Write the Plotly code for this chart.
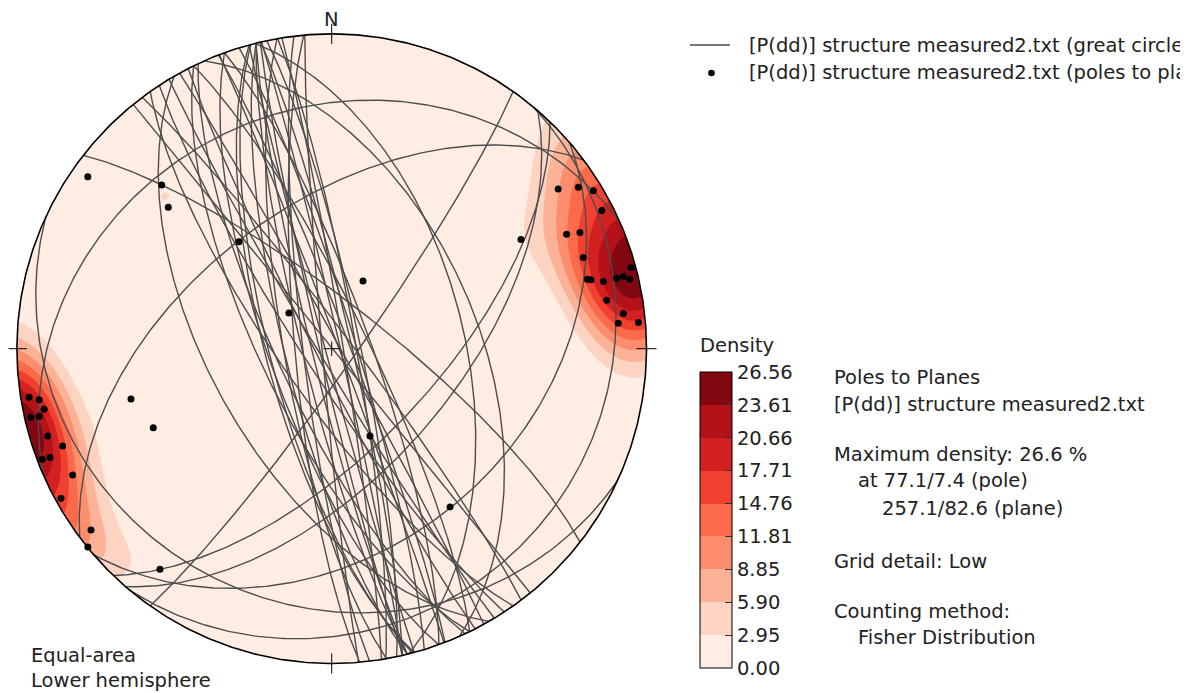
import numpy as np
import plotly.graph_objects as go

# ---------------- data (planes as dip direction / dip, degrees) ----------------
dip_direction = [234.8, 236.8, 238.9, 242.9, 244.0, 244.9, 240.0, 250.1, 254.8, 254.8,
                 255.1, 256.1, 256.1, 256.1, 256.9, 260.0, 263.1, 264.9, 265.1,
                 80.9, 80.1, 78.1, 77.1, 77.0, 72.9, 70.1, 69.1, 68.9, 64.0, 61.1, 53.0, 50.9,
                 125.2, 133.9, 130.9, 139.1, 204.8, 129.9, 75.9, 66.1, 336.3, 323.2, 37.9]
dip = [77.0, 82.9, 86.7, 85.9, 71.9, 76.0, 58.8, 73.9, 88.3, 73.0,
       74.1, 77.9, 82.5, 84.9, 86.9, 77.7, 82.6, 80.5, 87.5,
       87.0, 83.7, 82.6, 87.8, 84.8, 83.7, 80.0, 88.2, 85.4, 80.7, 88.0, 85.2, 89.8,
       84.2, 64.0, 58.1, 37.1, 19.3, 14.4, 55.4, 52.0, 24.7, 52.7, 77.8]

density_labels = ["0.00", "2.95", "5.90", "8.85", "11.81", "14.76", "17.71", "20.66", "23.61", "26.56"]
max_density = 26.56
kappa = 50.0

info_lines = ["Poles to Planes", "[P(dd)] structure measured2.txt", "Maximum density: 26.6 %",
              "at 77.1/7.4 (pole)", "257.1/82.6 (plane)", "Grid detail: Low",
              "Counting method:", "Fisher Distribution"]
legend_labels = ["[P(dd)] structure measured2.txt (great circles)",
                 "[P(dd)] structure measured2.txt (poles to planes)"]

band_colors = ["rgb(255,236,227)", "rgb(253,212,194)", "rgb(252,178,151)", "rgb(252,142,110)",
               "rgb(251,106,74)", "rgb(240,64,47)", "rgb(211,32,32)", "rgb(178,18,24)",
               "rgb(131,7,17)"]

# ---------------- geometry helpers ----------------
OFF = 8                      # page body margin of the html page
W, H = 1188 - OFF, 693 - OFF
cx, cy, R = 331.7, 348.7, 314.8   # pixel centre / radius of the net (window coords)
xlo = -(cx - OFF - 0.5) / R       # left edge of the drawable area
rng = 1.05
FONT = "DejaVu Sans"
FS = 19.5
TXT = "#222222"
GC_COLOR = "#4d4d4d"


def px2x(px):
    return (px - OFF) / W


def py2y(py):
    return 1 - (py - OFF) / H


def clamp(v):
    return float(min(1.0, max(0.0, v)))


def proj(N, E, D):
    s = 1.0 / np.sqrt(1.0 + D)
    return E * s, N * s


def line_vec(trend, plunge):
    t = np.radians(trend)
    p = np.radians(plunge)
    return np.cos(p) * np.cos(t), np.cos(p) * np.sin(t), np.sin(p)


dd = np.array(dip_direction)
dp = np.array(dip)
n = len(dd)

# poles
pole_trend = (dd + 180.0) % 360.0
pole_plunge = 90.0 - dp
pN, pE, pD = line_vec(pole_trend, pole_plunge)
pole_x, pole_y = proj(pN, pE, pD)

# great circles
gc_x, gc_y = [], []
th = np.linspace(0, np.pi, 241)
for a, b in zip(dd, dp):
    sN, sE = np.cos(np.radians(a - 90)), np.sin(np.radians(a - 90))
    vN, vE, vD = line_vec(a, b)
    N = np.cos(th) * sN + np.sin(th) * vN
    E = np.cos(th) * sE + np.sin(th) * vE
    D = np.clip(np.sin(th) * vD, 0, None)
    x, y = proj(N, E, D)
    gc_x += list(x) + [None]
    gc_y += list(y) + [None]

# density (Fisher / exponential smoothing of pole counts, offset like Kamb counting)
g = np.linspace(-1.02, 1.02, 151)
GX, GY = np.meshgrid(g, g)
rr = np.hypot(GX, GY)
sc = np.where(rr > 1, 1.0 / np.maximum(rr, 1e-9), 1.0)
X, Y = GX * sc, GY * sc
r2 = X ** 2 + Y ** 2
k = np.sqrt(np.clip(2 - r2, 0, None))
gE, gN, gD = X * k, Y * k, 1 - r2
cosd = np.abs(gN[..., None] * pN + gE[..., None] * pE + gD[..., None] * pD)
dens = np.clip(np.exp(kappa * (cosd - 1)).sum(-1) - 0.5, 0, None)
dens = dens / dens.max() * max_density * 0.9999

step = max_density / 9.0
levels = [i * step for i in range(10)]
cscale = []
for i, c in enumerate(band_colors):
    cscale.append([i / 9.0, c])
    cscale.append([(i + 1) / 9.0, c])

fig = go.Figure()

fig.add_trace(go.Contour(
    x=g, y=g, z=dens, colorscale=cscale, zmin=0, zmax=max_density, zauto=False,
    autocontour=False,
    contours=dict(start=0, end=max_density, size=step, coloring="fill", showlines=False),
    line=dict(width=0), hoverinfo="skip", showlegend=False,
    colorbar=dict(
        x=px2x(700), xanchor="left", xpad=0, y=py2y(668), yanchor="bottom", ypad=0,
        len=296, lenmode="pixels", thickness=32, thicknessmode="pixels",
        outlinewidth=1, outlinecolor="black",
        tickmode="array", tickvals=levels, ticktext=density_labels,
        ticks="inside", ticklen=7, tickcolor="#333", tickwidth=1,
        tickfont=dict(family=FONT, size=FS, color=TXT),
    ),
))

# white mask outside the primitive circle (one simple polygon per quadrant)
E_ = rng + 0.01
mx, my = [], []
for q in range(4):
    a = np.linspace(q * np.pi / 2, (q + 1) * np.pi / 2, 91)
    ax, ay = np.round(np.cos(a), 12), np.round(np.sin(a), 12)
    sx = 1 if q in (0, 3) else -1
    sy = 1 if q in (0, 1) else -1
    px = list(ax) + [ax[-1] * E_, sx * E_, ax[0] * E_, ax[0]]
    py = list(ay) + [ay[-1] * E_, sy * E_, ay[0] * E_, ay[0]]
    mx += px + [None]
    my += py + [None]
fig.add_trace(go.Scatter(x=mx, y=my, mode="lines", fill="toself", fillcolor="white",
                         line=dict(width=0.5, color="white"), hoverinfo="skip", showlegend=False))

fig.add_trace(go.Scatter(x=gc_x, y=gc_y, mode="lines", line=dict(color=GC_COLOR, width=1.4),
                         hoverinfo="skip", showlegend=False, name=legend_labels[0]))
fig.add_trace(go.Scatter(x=pole_x, y=pole_y, mode="markers",
                         marker=dict(color="black", size=7), showlegend=False, name=legend_labels[1]))

# primitive circle
t2 = np.linspace(0, 2 * np.pi, 721)
fig.add_trace(go.Scatter(x=np.cos(t2), y=np.sin(t2), mode="lines", line=dict(color="black", width=1.6),
                         hoverinfo="skip", showlegend=False))

# ticks and centre cross
tk = 0.032
shapes = []
for (x0, y0, x1, y1) in [(0, 1 - tk, 0, 1 + tk), (0, -1 - tk, 0, -1 + tk),
                         (1 - tk, 0, 1 + tk, 0), (-1 - tk, 0, -1 + tk, 0),
                         (-0.026, 0, 0.026, 0), (0, -0.023, 0, 0.023)]:
    shapes.append(dict(type="line", xref="x", yref="y", x0=x0, y0=y0, x1=x1, y1=y1,
                       line=dict(color="black", width=1), layer="above"))

# manual legend
shapes.append(dict(type="line", xref="paper", yref="paper", x0=px2x(690), x1=px2x(730),
                   y0=py2y(45), y1=py2y(45), line=dict(color=GC_COLOR, width=1.3)))
rd = 3.3
shapes.append(dict(type="circle", xref="paper", yref="paper",
                   x0=px2x(711.5 - rd), x1=px2x(711.5 + rd), y0=py2y(73 + rd), y1=py2y(73 - rd),
                   fillcolor="black", line=dict(width=0)))

ann = []


def add_text(txt, px, py, size=FS):
    # annotations carry ~2px of internal padding
    ann.append(dict(text=txt, x=px2x(px - 2), y=py2y(py), xref="paper", yref="paper",
                    xanchor="left", yanchor="middle", showarrow=False,
                    font=dict(family=FONT, size=size, color=TXT)))


add_text(legend_labels[0], 749, 45)
add_text(legend_labels[1], 749, 72.5)

info_pos = [(834, 377), (834, 404), (834, 455), (858, 481), (882, 508), (834, 561), (834, 611), (858, 637)]
for txt, (px, py) in zip(info_lines, info_pos):
    add_text(txt, px, py)

add_text("Density", 700, 345)
add_text("Equal-area", 31, 655)
add_text("Lower hemisphere", 31, 680)

ann.append(dict(text="N", x=0, y=(cy - 20) / R, xref="x", yref="y", xanchor="center", yanchor="middle",
                showarrow=False, font=dict(family=FONT, size=FS, color=TXT)))

xdom = [clamp(px2x(cx + xlo * R)), clamp(px2x(cx + rng * R))]
ydom = [clamp(py2y(cy + rng * R)), clamp(py2y(cy - rng * R))]

fig.update_layout(
    width=W, height=H, margin=dict(l=0, r=0, t=0, b=0),
    paper_bgcolor="white", plot_bgcolor="white",
    xaxis=dict(range=[xlo, rng], domain=xdom, visible=False, showgrid=False, zeroline=False),
    yaxis=dict(range=[-rng, rng], domain=ydom, visible=False, showgrid=False, zeroline=False),
    shapes=shapes, annotations=ann, showlegend=False,
)

fig.write_html("out.html")
